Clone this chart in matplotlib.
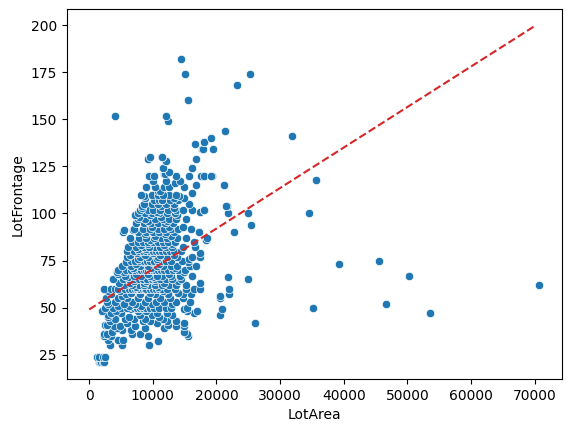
import matplotlib
matplotlib.use("Agg")
import matplotlib.pyplot as plt
import numpy as np

# LotFrontage value -> LotArea values
rows = {
    21: [1500, 1680, 1890, 2100, 2280],
    24: [1200, 1600, 2200, 2450],
    30: [3250, 5200, 9400],
    32: [10850],
    33: [2990, 4450, 5240],
    35: [2360, 3500, 9300, 15450],
    36: [2250, 2780, 6710, 8020, 15360],
    37: [3570, 14930],
    38: [5140, 6500],
    39: [8800, 11800, 4300],
    40: [3820, 4800, 7200, 13680, 14930],
    41: [2520, 2720, 12310],
    42: [10640, 14830, 6000, 26100],
    43: [3200, 8400, 12210, 13680, 9480],
    44: [4000, 5600, 7000, 8800, 11600],
    45: [2900, 6300, 11000],
    46: [20500, 3000, 8000, 9800, 13000],
    47: [3500, 5000, 10640, 12210, 16400, 53500],
    48: [2000, 4200, 7600, 9000, 15360, 16930],
    49: [14930, 20900, 6500],
    50: [2460, 3800, 5000, 6000, 7000, 7500, 8000, 8500, 9000, 9600, 10200,
         11000, 12000, 12800, 15340, 35100],
    51: [4600, 6200, 8200],
    52: [3000, 5400, 7200, 9800, 13000, 46600],
    53: [4030, 6800, 8700, 10500, 13680, 2800, 11800, 15800],
    55: [2600, 4500, 6000, 7600, 9300, 11200, 12620, 14730, 20490],
    56: [20500, 5200],
    57: [22000, 3400, 8000, 5800, 10300, 12400, 14800, 16000],
    58: [6500, 9500, 13900],
    59: [3000, 4900, 11600],
    60: [2300, 3500, 4030, 4560, 5610, 6200, 6800, 7200, 7500, 7800, 8000,
         8400, 8800, 9000, 9500, 10000, 10500, 11000, 11430, 12200, 13520,
         15250, 16400, 17340, 21900],
    61: [7400, 10800],
    62: [5500, 7900, 9300, 12500, 70761, 6800, 8600, 10400, 11400, 13600, 15200],
    63: [4700, 6400, 8600, 11700, 17340],
    64: [7000, 9000, 10300, 14000],
    65: [3700, 5340, 6300, 7000, 7800, 8500, 9100, 9800, 10400, 11200, 12000,
         13000, 14400, 25000],
    66: [21800, 6100, 10000],
    67: [8200, 11500, 16140, 50300, 5600, 7000, 9600, 10600, 12800, 14200],
    68: [4500, 7400, 9200, 12600],
    69: [4290, 5500, 14830],
    70: [4600, 5800, 6600, 7200, 7800, 8200, 8600, 8900, 9200, 9600, 10000,
         10400, 10800, 11300, 11800, 12400, 13200, 14000, 15000],
    71: [6900, 9700, 13500],
    72: [5200, 8000, 10600, 12800, 6600, 9200, 11600, 13800, 15800, 16800],
    73: [7400, 11000, 39200],
    74: [5860, 8600, 9900, 15600],
    75: [6500, 7200, 8000, 8600, 9100, 9600, 10200, 10800, 11400, 12000,
         12900, 14570, 45600],
    76: [15610, 7700, 10600],
    77: [17450, 9300, 6000, 8000, 10800, 12200, 13800, 16200],
    78: [6400, 8800, 11200, 13300],
    79: [7500, 10100, 17340],
    80: [6000, 7000, 7800, 8500, 9000, 9500, 10000, 10500, 11000, 11500,
         12000, 12700, 13400, 14410],
    81: [7590, 8900],
    82: [6130, 10300, 12000, 7400, 8600, 9400, 11200, 13000, 14800, 16600],
    83: [8200, 11700],
    84: [9300, 13000],
    85: [6800, 7600, 8500, 9300, 10000, 10800, 11600, 12400, 13500, 16400],
    86: [18390, 9600],
    87: [18440, 7800, 11300, 6400, 9000, 10200, 12300, 13800, 15200],
    88: [10400, 12800],
    89: [8700, 11900],
    90: [5340, 7700, 9000, 10000, 11000, 12000, 13300, 17190, 22800],
    91: [5500, 6920],
    92: [8400, 10800, 7000, 9500, 11700, 12900, 14000, 16000],
    93: [9800, 12600, 14700],
    94: [25400],
    95: [7300, 8600, 9700, 10800, 11900, 13200],
    96: [9200, 12200],
    97: [10300, 7600, 8800, 11600, 12600, 13700, 15200],
    98: [7900, 11300],
    99: [7180, 9500, 13800],
    100: [7700, 8800, 9900, 11000, 12300, 13500, 21750, 25000, 34600],
    101: [17450, 10600],
    102: [9270, 10060, 16140, 17970, 18000, 8000, 11200, 12400, 13600, 14700],
    103: [13250, 8300],
    104: [8330, 11270, 21600, 21540],
    105: [9800, 12000, 15610, 8600, 10800, 13400],
    107: [10110, 11000, 11480, 11430, 12730, 14000],
    108: [8750, 13250, 14830],
    109: [8540, 14040],
    110: [9900, 12500, 8200, 10800, 11600, 13700],
    111: [16140],
    112: [10850, 11160],
    114: [10330, 14830, 9000, 11800, 12600],
    115: [16820, 21200],
    116: [13470],
    117: [10000, 12000, 14200],
    118: [35700],
    120: [9430, 10220, 13680, 15610, 17550, 17970, 19270, 19200],
    121: [11790, 11900],
    122: [12500],
    124: [11520, 11580, 16140],
    128: [12000, 12100],
    129: [9270, 16710],
    130: [9590, 11370, 11430],
    134: [17760, 19380, 17810],
    137: [16600],
    138: [17970, 18000],
    140: [19070],
    141: [31800],
    144: [21400],
    149: [12310],
    152: [4130, 12050],
    160: [15600],
    168: [23300],
    174: [15100, 25300],
    182: [14500],
}

lot_area = [a for f, areas in rows.items() for a in areas]
lot_frontage = [f for f, areas in rows.items() for a in areas]

line_x = [0, 70000]
line_y = [49, 199.5]

fig = plt.figure(figsize=(5.71, 4.32), dpi=100)
ax = fig.add_axes([0.1168, 0.1227, 0.8674, 0.8558])
ax.scatter(lot_area, lot_frontage, s=36, c="#1f77b4",
           edgecolors="white", linewidths=0.48, zorder=2)
ax.plot(line_x, line_y, color="#d62728", linestyle="--", linewidth=1.5, zorder=3)
ax.set_xlabel("LotArea")
ax.set_ylabel("LotFrontage")
fig.savefig("out.png", dpi=100)
